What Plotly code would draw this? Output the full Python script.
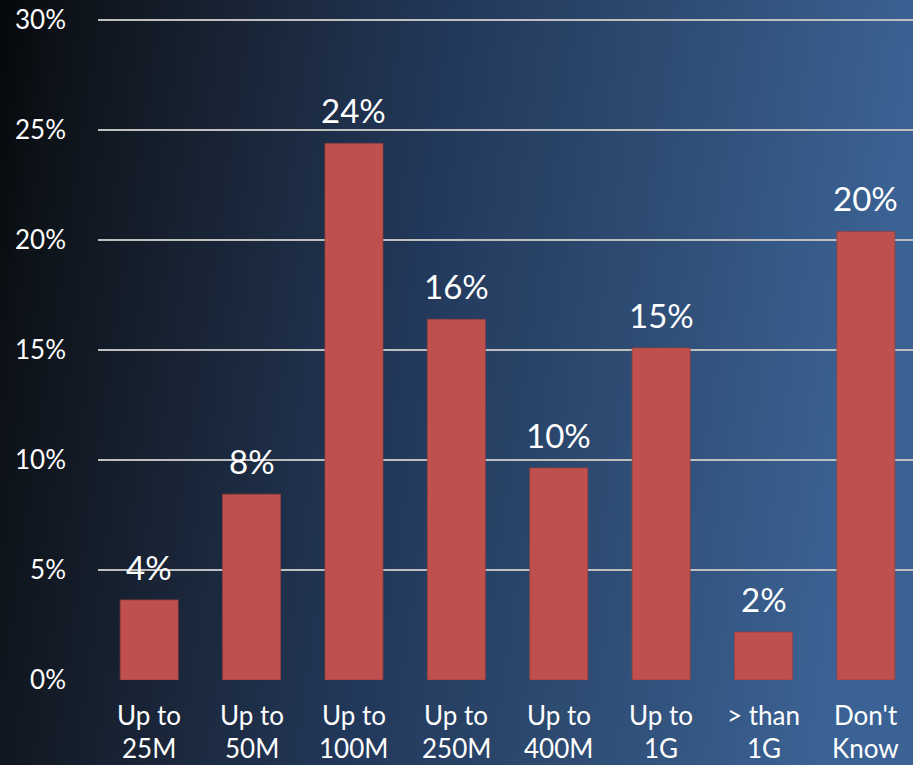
import base64
import plotly.graph_objects as go

# Survey answers: share of respondents per internet speed tier
line1 = ["Up to", "Up to", "Up to", "Up to", "Up to", "Up to", "> than", "Don't"]
line2 = ["25M", "50M", "100M", "250M", "400M", "1G", "1G", "Know"]
shares = [3.64, 8.45, 24.4, 16.4, 9.64, 15.1, 2.18, 20.4]
y_ticks = [0, 5, 10, 15, 20, 25, 30]

W, H = 913, 765
ML, MR, MT, MB = 98, 0, 19, 85
PW, PH = W - ML - MR, H - MT - MB

FONT = "Lato"
BAR = "#c0504d"
GRID = "#bfbfbf"

# dark-to-blue backdrop as an SVG gradient
svg = f"""<svg xmlns='http://www.w3.org/2000/svg' width='{W}' height='{H}' viewBox='0 0 {W} {H}' preserveAspectRatio='none'>
<defs>
<linearGradient id='g' x1='0' y1='0' x2='1' y2='0.12'>
<stop offset='0' stop-color='#04070a'/>
<stop offset='0.066' stop-color='#0d1218'/>
<stop offset='0.22' stop-color='#16202f'/>
<stop offset='0.33' stop-color='#1c2a40'/>
<stop offset='0.49' stop-color='#22385a'/>
<stop offset='0.71' stop-color='#2d4a70'/>
<stop offset='1' stop-color='#3b6294'/>
</linearGradient>
</defs>
<rect x='0' y='0' width='{W}' height='{H}' fill='url(#g)'/>
</svg>"""
bg_uri = "data:image/svg+xml;base64," + base64.b64encode(svg.encode()).decode()

cats = list(range(len(shares)))

fig = go.Figure(
    go.Bar(
        x=cats,
        y=shares,
        width=0.566,
        marker=dict(color=BAR, line=dict(color="#9a403e", width=0.75)),
        hoverinfo="skip",
    )
)

annotations = []
for i, v in enumerate(shares):
    annotations.append(dict(
        x=i, y=v, xref="x", yref="y", text=f"{round(v)}%",
        showarrow=False, yanchor="middle", yshift=33,
        font=dict(family=FONT, size=33, color="white"),
    ))
    annotations.append(dict(
        x=i, y=0, xref="x", yref="y", text=line1[i],
        showarrow=False, yanchor="middle", yshift=-35,
        font=dict(family=FONT, size=26, color="white"),
    ))
    annotations.append(dict(
        x=i, y=0, xref="x", yref="y", text=line2[i],
        showarrow=False, yanchor="middle", yshift=-68,
        font=dict(family=FONT, size=26, color="white"),
    ))

fig.update_layout(
    width=W, height=H,
    margin=dict(l=ML, r=MR, t=MT, b=MB),
    paper_bgcolor="#1c2a40",
    plot_bgcolor="rgba(0,0,0,0)",
    showlegend=False,
    font=dict(family=FONT, color="white"),
    images=[dict(
        source=bg_uri, xref="paper", yref="paper",
        x=-ML / PW, y=1 + MT / PH,
        sizex=W / PW, sizey=H / PH,
        xanchor="left", yanchor="top",
        sizing="stretch", layer="below",
    )],
    xaxis=dict(
        range=[-0.5, 7.46],
        showticklabels=False, showgrid=False, zeroline=False,
        showline=False, ticks="",
    ),
    yaxis=dict(
        range=[0, 30.06],
        tickvals=y_ticks,
        ticktext=[f"{t}%" for t in y_ticks],
        showgrid=True, gridcolor=GRID, gridwidth=2,
        zeroline=False, showline=False, ticks="",
        ticklabelstandoff=31,
        tickfont=dict(family=FONT, size=26, color="white"),
    ),
    annotations=annotations,
)

fig.write_html("out.html")
